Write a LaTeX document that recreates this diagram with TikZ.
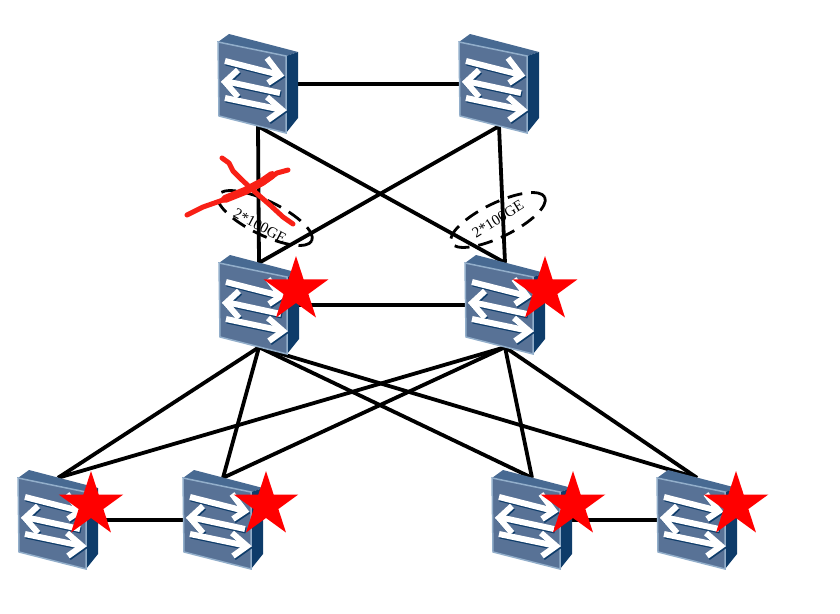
\documentclass[tikz,border=0pt]{standalone}
\usepackage{fontspec}
\setmainfont{Liberation Serif}
\usetikzlibrary{shapes.geometric,backgrounds}
\definecolor{facecol}{RGB}{88,114,150}
\definecolor{topcol}{RGB}{72,106,146}
\definecolor{sidecol}{RGB}{14,60,106}
\definecolor{edgecol}{RGB}{146,174,202}
\definecolor{crosscol}{RGB}{248,32,22}
\tikzset{
  switchport/.style={minimum width=80pt, minimum height=84pt, inner sep=0pt},
  badge/.style={star, star points=5, star point ratio=2.618, fill=red, minimum size=68pt, inner sep=0pt},
  link/.style={line width=3.8pt},
  bundle/.style={ellipse, draw, line width=2.8pt, dashed, dash pattern=on 15pt off 9pt, minimum width=104pt, minimum height=34pt, inner sep=0pt},
  rate/.style={font=\fontsize{15}{15}\selectfont, inner sep=0pt},
  cross/.style={crosscol, line width=5pt, line cap=round, line join=round},
  arrowline/.style={line width=6pt, miter limit=10},
  switchicon/.pic={
    \fill[topcol] (-40,-42) -- (-29,-50) -- (40,-32) -- (28,-28) -- cycle;
    \fill[sidecol] (28,-28) -- (40,-32) -- (40,34) -- (28,49) -- cycle;
    \filldraw[fill=facecol, draw=edgecol, line width=1.5pt] (-40,-42) -- (28,-28) -- (28,49) -- (-39,32) -- cycle;
    % 三个箭头, 先画阴影
    \foreach \ink/\dx/\dy in {sidecol/1/1.5, white/0/0} {
      \begin{scope}[shift={(\dx,\dy)}, \ink]
        \draw[arrowline] (-33,-23) -- (20,-9.5);
        \draw[arrowline] (9,-26) -- (22,-9) -- (10,-1);
        \draw[arrowline] (22,9) -- (-31,-2.5);
        \draw[arrowline] (-20,-14) -- (-33,-2) -- (-20,13);
        \draw[arrowline] (-33,14) -- (22,25.5);
        \draw[arrowline] (9,13) -- (24,26) -- (10,36);
      \end{scope}
    }
  }
}
\begin{document}
\begin{tikzpicture}[x=1pt, y=-1pt]
  \useasboundingbox (0,0) rectangle (840,613);

  % 交换机
  \foreach \name/\x/\y in {core1/258/84, core2/499/84, spine1/259/305, spine2/505/305,
                           leaf1/58/520, leaf2/223/520, leaf3/532/520, leaf4/697/520} {
    \node[switchport] (\name) at (\x,\y) {};
    \pic at (\name) {switchicon};
  }

  % 连线
  \begin{scope}[on background layer]
    \draw[link] (core1.east) -- (core2.west);
    \draw[link] (spine1.east) -- (spine2.west);
    \draw[link] (leaf1.east) -- (leaf2.west);
    \draw[link] (leaf3.east) -- (leaf4.west);
    \foreach \a in {core1, core2} {
      \foreach \b in {spine1, spine2} {
        \draw[link] (\a.south) -- (\b.north);
      }
    }
    \foreach \a in {spine1, spine2} {
      \foreach \b in {leaf1, leaf2, leaf3, leaf4} {
        \draw[link] (\a.south) -- (\b.north);
      }
    }
  \end{scope}

  % 星标
  \foreach \name/\x/\y in {star1/296/290, star2/545/290, star3/91/505,
                           star4/266/505, star5/573/505, star6/736/505} {
    \node[badge] (\name) at (\x,\y) {};
  }

  % 捆绑链路
  \node[bundle, rotate=-26] (bundleL) at (265,218) {};
  \node[bundle, rotate=26] (bundleR) at (498,220) {};
  \node[rate, rotate=-28] (rateL) at (260,226) {2*100GE};
  \node[rate, rotate=32] (rateR) at (498,219) {2*100GE};

  % 红叉
  \draw[cross] (222,158) -- (229,163) -- (233,171) -- (242,180) -- (255,192) -- (270,205) -- (283,217) -- (293,224);
  \draw[cross] (187,215) -- (203,207) -- (223,200) -- (245,192) -- (263,183) -- (277,173) -- (288,170);
  \draw[cross, line width=8pt] (225,199) -- (245,191) -- (262,182) -- (272,175);
\end{tikzpicture}
\end{document}
